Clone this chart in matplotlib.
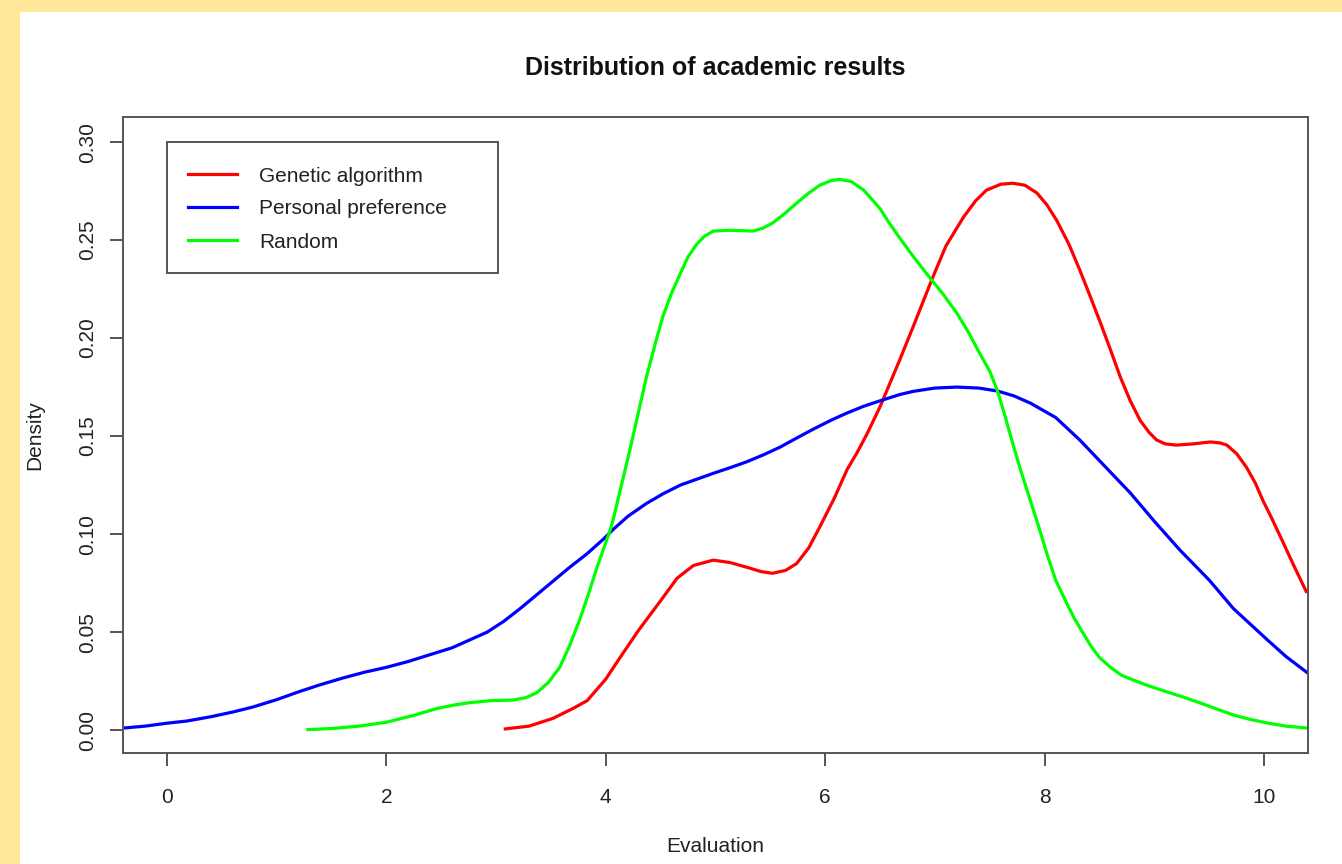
import matplotlib
matplotlib.use("Agg")
import matplotlib.pyplot as plt
from matplotlib.patches import Rectangle
from matplotlib.lines import Line2D

plt.rcParams['font.family'] = ['Liberation Sans', 'DejaVu Sans']

title = "Distribution of academic results"
xlabel = "Evaluation"
ylabel = "Density"
series_names = ["Genetic algorithm", "Personal preference", "Random"]
series_colors = ["#ff0000", "#0000ff", "#00ff00"]

ga_x = [3.07, 3.3, 3.52, 3.7, 3.83, 4.0, 4.13, 4.3, 4.5, 4.65, 4.8, 4.98, 5.13, 5.29, 5.42, 5.52, 5.64, 5.74,
        5.85, 5.95, 6.08, 6.2, 6.29, 6.38, 6.5, 6.59, 6.68, 6.8, 6.97, 7.1, 7.26, 7.37, 7.47, 7.6, 7.71, 7.82,
        7.93, 8.02, 8.11, 8.22, 8.32, 8.41, 8.5, 8.6, 8.69, 8.78, 8.87, 8.95, 9.02, 9.1, 9.2, 9.35, 9.51, 9.6,
        9.66, 9.75, 9.84, 9.92, 9.99, 10.07, 10.15, 10.27, 10.39]
ga_y = [0.0005, 0.002, 0.006, 0.011, 0.015, 0.026, 0.037, 0.051, 0.066, 0.0775, 0.084, 0.0867, 0.0855, 0.083,
        0.0808, 0.080, 0.0815, 0.085, 0.093, 0.1036, 0.118, 0.133, 0.1415, 0.151, 0.165, 0.177, 0.189, 0.2056,
        0.2296, 0.247, 0.2617, 0.270, 0.2755, 0.2785, 0.279, 0.278, 0.274, 0.268, 0.260, 0.248, 0.2347, 0.222,
        0.209, 0.194, 0.180, 0.168, 0.158, 0.152, 0.148, 0.146, 0.1454, 0.146, 0.147, 0.1465, 0.1454, 0.141, 0.134,
        0.126, 0.117, 0.108, 0.0985, 0.084, 0.070]

pp_x = [-0.4, -0.2, 0.0, 0.18, 0.4, 0.6, 0.78, 1.0, 1.2, 1.39, 1.6, 1.8, 2.0, 2.2, 2.4, 2.6, 2.78, 2.92, 3.07,
        3.22, 3.37, 3.52, 3.67, 3.83, 3.98, 4.07, 4.2, 4.37, 4.52, 4.68, 4.83, 4.98, 5.14, 5.29, 5.44, 5.59, 5.74,
        5.89, 6.05, 6.2, 6.35, 6.5, 6.68, 6.8, 7.0, 7.2, 7.4, 7.57, 7.72, 7.87, 8.1, 8.32, 8.55, 8.78, 9.0, 9.23,
        9.5, 9.72, 10.03, 10.2, 10.4]
pp_y = [0.001, 0.002, 0.0035, 0.0046, 0.0068, 0.0092, 0.0117, 0.0155, 0.0195, 0.023, 0.0265, 0.0295, 0.032, 0.035,
        0.0385, 0.042, 0.0465, 0.050, 0.0555, 0.062, 0.069, 0.076, 0.083, 0.090, 0.0975, 0.1025, 0.109, 0.1156,
        0.1205, 0.125, 0.128, 0.131, 0.134, 0.137, 0.1405, 0.1444, 0.149, 0.1535, 0.158, 0.1618, 0.1652, 0.168,
        0.1712, 0.1728, 0.1745, 0.175, 0.1745, 0.173, 0.1705, 0.1668, 0.1595, 0.148, 0.1345, 0.121, 0.1065, 0.092,
        0.0765, 0.062, 0.046, 0.0375, 0.029]

rd_x = [1.27, 1.5, 1.75, 2.0, 2.25, 2.46, 2.62, 2.76, 2.95, 3.15, 3.27, 3.37, 3.48, 3.58, 3.67, 3.76, 3.84, 3.92,
        4.04, 4.07, 4.22, 4.37, 4.45, 4.52, 4.6, 4.68, 4.75, 4.83, 4.9, 4.98, 5.13, 5.25, 5.34, 5.43, 5.52, 5.63,
        5.74, 5.85, 5.95, 6.05, 6.13, 6.24, 6.35, 6.43, 6.5, 6.58, 6.68, 6.8, 6.97, 7.08, 7.2, 7.31, 7.41, 7.5,
        7.57, 7.64, 7.71, 7.79, 7.87, 7.95, 8.02, 8.1, 8.2, 8.27, 8.35, 8.42, 8.5, 8.6, 8.7, 8.81, 8.95, 9.12,
        9.27, 9.42, 9.57, 9.72, 9.87, 10.03, 10.2, 10.4]
rd_y = [0.0002, 0.0008, 0.002, 0.004, 0.0075, 0.011, 0.0128, 0.014, 0.015, 0.0153, 0.0165, 0.019, 0.0245, 0.032,
        0.043, 0.056, 0.069, 0.083, 0.102, 0.108, 0.143, 0.180, 0.197, 0.211, 0.223, 0.233, 0.2415, 0.248, 0.252,
        0.2546, 0.255, 0.2548, 0.2546, 0.256, 0.2587, 0.2635, 0.2689, 0.274, 0.278, 0.2803, 0.281, 0.2798, 0.2755,
        0.2705, 0.266, 0.259, 0.251, 0.2418, 0.2296, 0.222, 0.2127, 0.2025, 0.192, 0.183, 0.173, 0.160, 0.146,
        0.131, 0.117, 0.103, 0.090, 0.0765, 0.0648, 0.057, 0.0495, 0.043, 0.037, 0.032, 0.028, 0.0255, 0.0225,
        0.0194, 0.0167, 0.0138, 0.0107, 0.0077, 0.0055, 0.0036, 0.002, 0.001]

x_ticks = [0, 2, 4, 6, 8, 10]
y_ticks = [0.00, 0.05, 0.10, 0.15, 0.20, 0.25, 0.30]
y_ticklabels = ["0.00", "0.05", "0.10", "0.15", "0.20", "0.25", "0.30"]

W, H = 1342, 864
fig = plt.figure(figsize=(W / 100, H / 100), dpi=100, facecolor="#ffe699")
bg = fig.add_axes([20 / W, 0, 1 - 20 / W, 1 - 12 / H], zorder=-10)
bg.set_facecolor("white")
bg.set_xticks([])
bg.set_yticks([])
for sp in bg.spines.values():
    sp.set_visible(False)

L, R, T, B = 123, 1308, 117, 753
ax = fig.add_axes([L / W, 1 - B / H, (R - L) / W, (B - T) / H], zorder=1)
axis_col = "#555555"
text_col = "#222222"
for sp in ax.spines.values():
    sp.set_color(axis_col)
    sp.set_linewidth(1.4)

for xs, ys, c in zip([ga_x, pp_x, rd_x], [ga_y, pp_y, rd_y], series_colors):
    ax.plot(xs, ys, color=c, lw=2.3, solid_joinstyle="round", solid_capstyle="butt")

ax.set_xlim(-0.4, 10.4)
ax.set_ylim(-0.0117, 0.3128)
ax.set_xticks(x_ticks)
ax.set_xticklabels([str(v) for v in x_ticks])
ax.set_yticks(y_ticks)
ax.set_yticklabels(y_ticklabels, rotation=90, va="center")
ax.tick_params(axis="both", length=9.5, width=1.4, color=axis_col, labelsize=15, labelcolor=text_col)
ax.tick_params(axis="x", pad=16)
ax.tick_params(axis="y", pad=9)

fig.text(715 / W, 1 - 68 / H, title, fontsize=18, fontweight="bold", color="#111111", ha="center", va="center")
fig.text(715 / W, 1 - 846 / H, xlabel, fontsize=15, color=text_col, ha="center", va="center")
fig.text(35 / W, 1 - 435 / H, ylabel, fontsize=15, color=text_col, ha="center", va="center", rotation=90)

# legend (drawn manually to match the R-style box)
def fx(px):
    return (px - L) / (R - L)

def fy(py):
    return (B - py) / (B - T)

ax.add_patch(Rectangle((fx(167), fy(273)), fx(498) - fx(167), fy(142) - fy(273), transform=ax.transAxes,
                       facecolor="white", edgecolor=axis_col, linewidth=1.4, zorder=5))
row_y = [174, 207, 240]
for name, c, ry in zip(series_names, series_colors, row_y):
    ax.add_line(Line2D([fx(188), fx(237)], [fy(ry), fy(ry)], transform=ax.transAxes, color=c, lw=2.3, zorder=6))
    ax.text(fx(259), fy(ry), name, transform=ax.transAxes, fontsize=15, color=text_col, ha="left",
            va="center_baseline", zorder=6)

fig.savefig("out.png", dpi=100, facecolor=fig.get_facecolor())
